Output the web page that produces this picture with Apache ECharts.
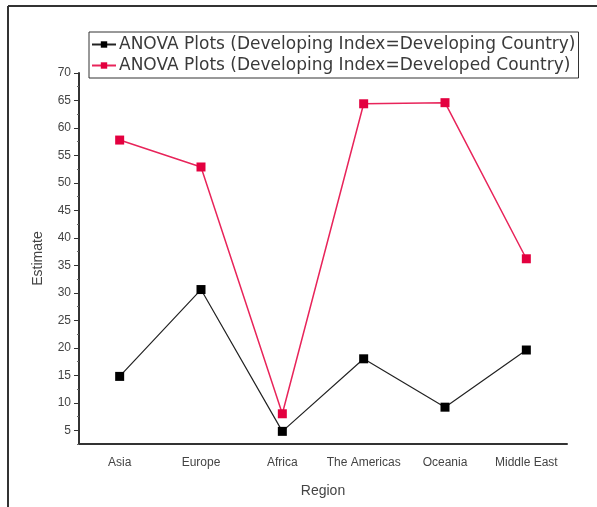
<!DOCTYPE html>
<html>
<head>
<meta charset="utf-8">
<script src="https://cdn.jsdelivr.net/npm/echarts@6/dist/echarts.min.js"></script>
<style>html,body{margin:0;padding:0;background:#fff;}#c{width:597px;height:507px;}</style>
</head>
<body>
<div id="c"></div>
<script>
const categories = ['Asia', 'Europe', 'Africa', 'The Americas', 'Oceania', 'Middle East'];
const developingCountry = [14.8, 30.6, 4.8, 18.0, 9.2, 19.6];
const developedCountry = [57.8, 52.9, 8.0, 64.4, 64.6, 36.2];
const yMajorTicks = [5, 10, 15, 20, 25, 30, 35, 40, 45, 50, 55, 60, 65, 70];
const seriesNames = [
  'ANOVA Plots (Developing Index=Developing Country)',
  'ANOVA Plots (Developing Index=Developed Country)'
];

const chart = echarts.init(document.getElementById('c'), null, {renderer: 'canvas'});
const font = 'Liberation Sans, Arial, sans-serif';
const axisColor = '#333';
const labelColor = '#444';

chart.setOption({
  animation: false,
  backgroundColor: '#fff',
  grid: {left: 79, right: 30, top: 73, bottom: 63, containLabel: false},
  legend: {
    left: 89, top: 32,
    orient: 'vertical',
    itemWidth: 24, itemHeight: 8, itemGap: 2,
    padding: [3, 3, 3, 2],
    borderColor: '#333', borderWidth: 1,
    textStyle: {fontFamily: 'DejaVu Sans, sans-serif', fontSize: 17, lineHeight: 19, color: '#3a3a3a', padding: [0, 0, 0, -2]},
    data: seriesNames
  },
  xAxis: [
    {
      type: 'category', data: categories, boundaryGap: true,
      axisLine: {lineStyle: {color: axisColor, width: 2}},
      axisTick: {alignWithLabel: true, length: 5, lineStyle: {color: axisColor}},
      axisLabel: {fontFamily: font, fontSize: 12, color: labelColor, margin: 13, interval: 0},
      name: 'Region', nameLocation: 'middle', nameGap: 40,
      nameTextStyle: {fontFamily: font, fontSize: 14, color: '#444'}
    },
    {
      type: 'category', data: categories, boundaryGap: true, position: 'bottom',
      axisLine: {show: false},
      axisTick: {alignWithLabel: false, length: 3, lineStyle: {color: '#666'}},
      axisLabel: {show: false}
    }
  ],
  yAxis: [
    {
      type: 'value', min: 2.5, max: 70, interval: 2.5,
      axisLine: {show: true, lineStyle: {color: axisColor, width: 2}},
      axisTick: {show: true, length: 2, lineStyle: {color: '#666'}},
      axisLabel: {
        fontFamily: font, fontSize: 12, color: labelColor, margin: 8,
        customValues: yMajorTicks
      },
      splitLine: {show: false},
      name: 'Estimate', nameLocation: 'middle', nameGap: 34, nameRotate: 90,
      nameTextStyle: {fontFamily: font, fontSize: 14, color: '#444'}
    },
    {
      type: 'value', min: 2.5, max: 70, interval: 2.5, position: 'left',
      axisLine: {show: false},
      axisTick: {show: true, length: 5, customValues: yMajorTicks, lineStyle: {color: axisColor}},
      axisLabel: {show: false},
      splitLine: {show: false}
    }
  ],
  series: [
    {
      name: seriesNames[0], type: 'line', data: developingCountry,
      xAxisIndex: 0, yAxisIndex: 0,
      symbol: 'rect', symbolSize: 9,
      lineStyle: {color: '#222', width: 1.2},
      itemStyle: {color: '#000'}
    },
    {
      name: seriesNames[1], type: 'line', data: developedCountry,
      xAxisIndex: 0, yAxisIndex: 0,
      symbol: 'rect', symbolSize: 9,
      lineStyle: {color: '#e8245a', width: 1.5},
      itemStyle: {color: '#e3003f'}
    }
  ],
  graphic: [
    {type: 'line', shape: {x1: 8, y1: 6, x2: 597, y2: 6}, style: {stroke: '#333', lineWidth: 2}},
    {type: 'line', shape: {x1: 8, y1: 6, x2: 8, y2: 507}, style: {stroke: '#333', lineWidth: 2}}
  ]
});
</script>
</body>
</html>
